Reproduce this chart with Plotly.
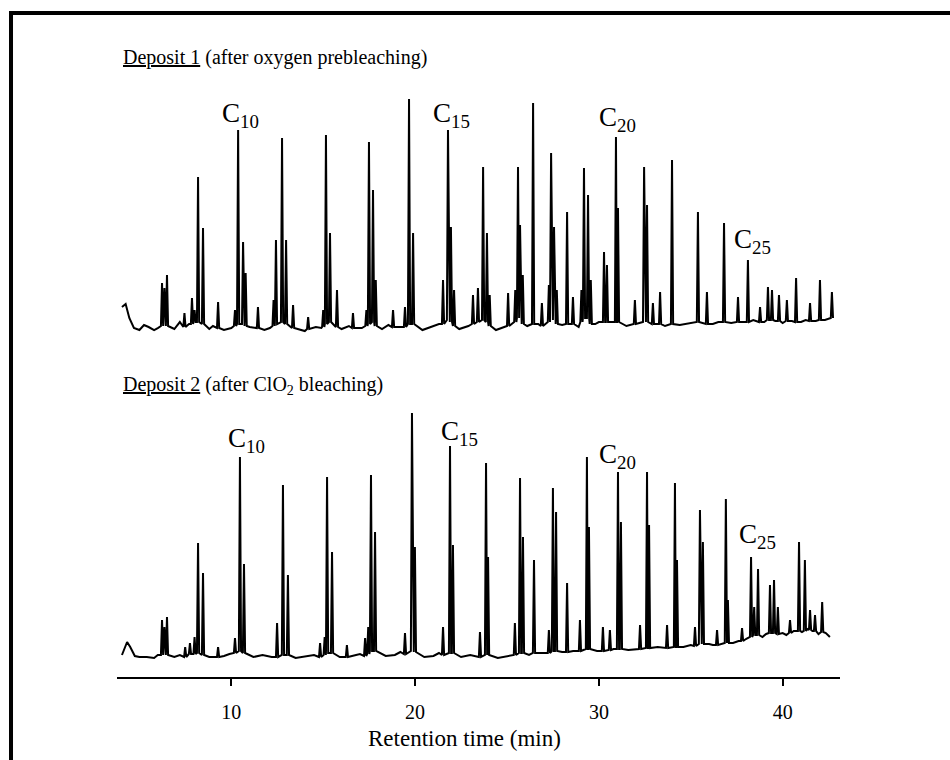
import plotly.graph_objects as go

# ---------------- data (retention time in min, detector response in a.u.) ----------------
# Deposit 1 (after oxygen prebleaching)
d1_base_t = [4.05, 4.25, 4.45, 4.7, 5.0, 5.25, 5.5, 5.8, 6.0, 6.9, 7.2, 7.7, 8.8, 9.0, 9.6, 10.0,
             11.0, 11.8, 12.1, 13.6, 14.0, 14.6, 14.9, 16.0, 16.4, 17.1, 18.2, 18.55, 19.1, 20.4,
             20.9, 21.3, 22.4, 22.9, 24.4, 24.8, 26.1, 26.7, 28.0, 28.9, 29.8, 30.0, 31.5, 32.2,
             33.6, 34.4, 35.0, 36.2, 36.5, 37.2, 37.9, 38.4, 39.0, 39.6, 40.0, 40.5, 41.0, 41.25,
             41.8, 42.3, 42.6]
d1_base_y = [33, 36, 22, 12, 10, 15, 13, 10, 12, 11, 18, 16, 11, 14, 10, 12,
             13, 10, 12, 11, 9, 13, 12, 11, 14, 12, 11, 15, 13, 10,
             13, 16, 11, 14, 10, 13, 14, 16, 15, 13, 16, 18, 14, 17,
             14, 15, 17, 16, 18, 17, 18, 20, 18, 19, 17, 19, 18, 20,
             19, 20, 22]
d1_peak_t = [6.23, 6.36, 6.50, 7.45, 7.86, 8.0, 8.19, 8.46, 9.28, 10.2, 10.37, 10.64, 10.78,
             11.45, 12.30, 12.43, 12.76, 12.98, 13.36, 14.18, 15.0, 15.15, 15.37, 15.75, 16.62,
             17.35, 17.49, 17.71, 17.86, 18.80, 19.45, 19.67, 19.89, 21.52, 21.79, 21.95, 22.12,
             23.15, 23.42, 23.70, 23.91, 24.06, 25.06, 25.45, 25.60, 25.71, 25.86, 26.42, 26.90,
             27.28, 27.40, 27.56, 27.71, 28.27, 28.59, 29.05, 29.19, 29.41, 29.56, 30.28, 30.44,
             30.93, 31.04, 31.96, 32.46, 32.62, 32.94, 33.33, 33.98, 35.39, 35.88, 36.81, 37.57,
             38.11, 38.77, 39.20, 39.42, 39.80, 40.23, 40.73, 41.49, 42.03, 42.68]
d1_peak_top = [57, 52, 65, 27, 42, 30, 163, 112, 38, 30, 210, 98, 67,
               33, 40, 100, 202, 100, 35, 23, 30, 205, 107, 50, 27,
               30, 198, 150, 60, 30, 33, 241, 107, 60, 210, 113, 50,
               45, 52, 173, 107, 45, 47, 50, 173, 115, 65, 237, 37,
               55, 187, 113, 50, 128, 43, 50, 172, 145, 60, 88, 75,
               203, 132, 40, 173, 135, 37, 48, 180, 128, 48, 117, 43,
               80, 33, 53, 50, 45, 40, 62, 37, 60, 48]
d1_peak_foot = [14, 16, 14, 13, 16, 18, 18, 16, 12, 14, 16, 16, 14,
                12, 14, 16, 18, 16, 12, 11, 13, 16, 18, 13, 12,
                14, 16, 18, 14, 13, 13, 16, 16, 16, 20, 18, 14,
                16, 18, 20, 18, 14, 14, 18, 22, 22, 16, 16, 14,
                18, 20, 20, 16, 16, 16, 18, 22, 22, 16, 18, 18,
                18, 18, 16, 18, 18, 16, 16, 16, 18, 16, 18, 18,
                18, 18, 20, 20, 19, 19, 18, 19, 20, 22]

# Deposit 2 (after ClO2 bleaching)
d2_base_t = [4.05, 4.2, 4.33, 4.5, 4.75, 5.0, 5.4, 5.8, 6.0, 6.9, 7.2, 7.7, 8.8, 9.6, 9.9, 11.2,
             11.7, 12.2, 13.5, 14.2, 14.5, 15.9, 16.6, 17.0, 18.4, 18.9, 19.2, 20.5, 21.0, 21.3,
             22.5, 23.0, 24.5, 25.0, 26.2, 26.9, 28.0, 28.6, 29.9, 30.8, 31.6, 32.0, 33.2, 33.5,
             34.6, 35.0, 36.0, 36.2, 37.3, 37.6, 38.0, 38.9, 39.1, 40.0, 40.2, 40.6, 41.05, 41.35,
             41.62, 41.95, 42.35, 42.57]
d2_base_y = [22, 30, 35, 30, 21, 20, 20, 19, 22, 20, 22, 24, 20, 21, 23, 20,
             22, 20, 19, 21, 22, 20, 21, 23, 21, 22, 25, 20, 21, 24,
             20, 22, 19, 21, 22, 24, 25, 26, 26, 28, 27, 28, 30, 29,
             30, 32, 33, 32, 34, 36, 38, 40, 43, 44, 42, 46, 45, 48,
             46, 43, 44, 40]
d2_peak_t = [6.23, 6.36, 6.50, 7.49, 7.75, 8.0, 8.19, 8.46, 9.28, 10.2, 10.47, 10.69,
             12.49, 12.81, 13.08, 14.83, 15.08, 15.21, 15.48, 16.29, 17.28, 17.45, 17.60, 17.82,
             19.45, 19.83, 19.99, 21.52, 21.90, 22.06, 23.53, 23.86, 23.97, 25.43, 25.71, 25.87,
             26.47, 27.28, 27.50, 27.67, 28.27, 28.97, 29.35, 29.46, 30.22, 30.60, 31.04, 31.20,
             32.24, 32.62, 32.73, 33.71, 34.14, 34.25, 35.23, 35.50, 35.66, 36.43, 36.91, 37.02,
             37.79, 38.28, 38.45, 38.66, 39.31, 39.53, 39.74, 40.40, 40.89, 41.21, 41.49, 41.76,
             42.15]
d2_peak_top = [57, 50, 60, 30, 34, 40, 134, 104, 30, 39, 220, 113,
               54, 192, 102, 34, 40, 200, 125, 32, 39, 50, 202, 145,
               44, 264, 130, 50, 231, 132, 45, 214, 120, 54, 199, 140,
               117, 47, 189, 165, 94, 57, 220, 150, 50, 47, 205, 155,
               52, 205, 152, 52, 194, 117, 50, 167, 135, 47, 178, 77,
               49, 120, 70, 108, 92, 97, 70, 57, 135, 117, 67, 62,
               75]
d2_peak_foot = [22, 24, 22, 20, 23, 23, 24, 22, 20, 24, 26, 24,
                20, 22, 22, 20, 22, 24, 24, 20, 21, 23, 26, 26,
                23, 26, 25, 22, 24, 24, 20, 22, 22, 22, 24, 24,
                24, 24, 26, 26, 25, 26, 28, 28, 26, 27, 28, 28,
                28, 29, 29, 29, 30, 30, 31, 33, 33, 32, 34, 34,
                36, 40, 42, 42, 44, 44, 43, 44, 46, 46, 47, 46,
                45]

panel_titles = ["<u>Deposit 1</u> (after oxygen prebleaching)",
                "<u>Deposit 2</u> (after ClO<sub>2</sub> bleaching)"]
peak_labels = ["C<sub>10</sub>", "C<sub>15</sub>", "C<sub>20</sub>", "C<sub>25</sub>"]
d1_label_t = [9.40, 20.85, 29.90, 37.25]
d1_label_y = [244, 244, 240, 118]
d2_label_t = [9.70, 21.28, 29.90, 37.50]
d2_label_y = [256, 263, 240, 160]
x_ticks = [10, 20, 30, 40]
x_title = "Retention time (min)"


def build(base_t, base_y, pk_t, pk_top, pk_foot, w=0.06):
    pts = []
    for t, y in zip(base_t, base_y):
        if all(abs(t - p) > 1.5 * w for p in pk_t):
            pts.append((t, y))
    for t, top, foot in zip(pk_t, pk_top, pk_foot):
        pts += [(t - w, foot), (t, top), (t + w, foot)]
    pts.sort()
    return [p[0] for p in pts], [p[1] for p in pts]


x1, y1 = build(d1_base_t, d1_base_y, d1_peak_t, d1_peak_top, d1_peak_foot)
x2, y2 = build(d2_base_t, d2_base_y, d2_peak_t, d2_peak_top, d2_peak_foot)

FONT = "Liberation Serif, Times New Roman, serif"

fig = go.Figure()
fig.add_trace(go.Scatter(x=x1, y=y1, mode="lines", xaxis="x", yaxis="y2",
                         line=dict(color="black", width=2), showlegend=False,
                         hoverinfo="skip"))
fig.add_trace(go.Scatter(x=x2, y=y2, mode="lines", xaxis="x", yaxis="y",
                         line=dict(color="black", width=2), showlegend=False,
                         hoverinfo="skip"))

annotations = []
for txt, t, y in zip(peak_labels, d1_label_t, d1_label_y):
    annotations.append(dict(text=txt, x=t, y=y, xref="x", yref="y2", xanchor="left",
                            yanchor="top", showarrow=False, font=dict(size=27)))
for txt, t, y in zip(peak_labels, d2_label_t, d2_label_y):
    annotations.append(dict(text=txt, x=t, y=y, xref="x", yref="y", xanchor="left",
                            yanchor="top", showarrow=False, font=dict(size=27)))
annotations.append(dict(text=panel_titles[0], x=0.006, y=0.9422, xref="paper", yref="paper",
                        xanchor="left", yanchor="middle", showarrow=False, font=dict(size=20)))
annotations.append(dict(text=panel_titles[1], x=0.006, y=0.4444, xref="paper", yref="paper",
                        xanchor="left", yanchor="middle", showarrow=False, font=dict(size=20)))
annotations.append(dict(text=x_title, x=0.48, y=-0.093, xref="paper", yref="paper",
                        xanchor="center", yanchor="middle", showarrow=False,
                        font=dict(size=23)))

fig.update_layout(
    width=950, height=760,
    margin=dict(l=117, r=110, t=20, b=83),
    paper_bgcolor="white", plot_bgcolor="white",
    font=dict(family=FONT, color="black"),
    xaxis=dict(range=[3.78, 43.12], tickvals=x_ticks, ticks="outside", ticklen=7,
               tickwidth=1.5, tickcolor="black", showline=True, linewidth=2,
               linecolor="black", showgrid=False, zeroline=False, anchor="y",
               tickfont=dict(size=20), ticklabelstandoff=9),
    yaxis=dict(domain=[0, 0.4216], range=[0, 277], visible=False),
    yaxis2=dict(domain=[0.5129, 1], range=[0, 320], visible=False, anchor="x"),
    annotations=annotations,
    shapes=[dict(type="path", xref="paper", yref="paper",
                 path="M -0.1466,-0.2 L -0.1466,1.0107 L 1.2,1.0107",
                 line=dict(color="black", width=4))],
)

fig.write_html("out.html", config={"displayModeBar": False},
               post_script="document.body.style.margin='0';")
